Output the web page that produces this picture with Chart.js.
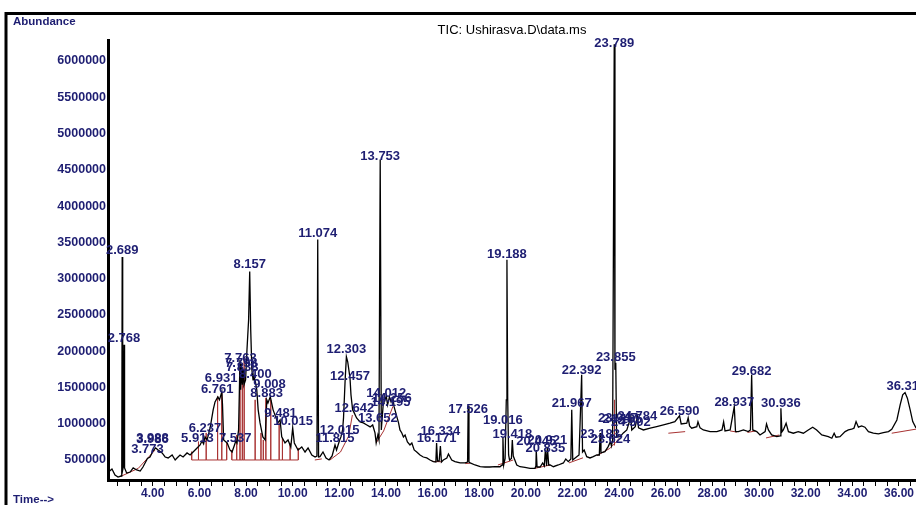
<!DOCTYPE html>
<html>
<head>
<meta charset="utf-8">
<title>TIC: Ushirasva.D\data.ms</title>
<script src="https://cdn.jsdelivr.net/npm/chart.js@4.4.0/dist/chart.umd.min.js"></script>
<style>
  html, body { margin: 0; padding: 0; background: #fff; overflow: hidden; }
  #wrap { position: relative; width: 916px; height: 505px; }
</style>
</head>
<body>
<div id="wrap"><canvas id="chart"></canvas></div>
<script>
// retention time (min) and abundance
const traceTime = [
  2.10, 2.25, 2.38, 2.51, 2.64, 2.67, 2.689, 2.71, 2.745, 2.768, 2.79, 2.88, 3.03, 3.16, 3.31, 3.46, 3.58, 3.773, 3.88, 4.01,
  4.12, 4.23, 4.40, 4.53, 4.66, 4.83, 4.96, 5.04, 5.17, 5.30, 5.47, 5.60, 5.73, 5.90, 6.03, 6.11, 6.18, 6.24, 6.33, 6.46,
  6.59, 6.67, 6.79, 6.86, 6.96, 6.99, 7.04, 7.19, 7.31, 7.40, 7.49, 7.56, 7.61, 7.68, 7.74, 7.77, 7.80, 7.84, 7.87, 7.91,
  7.98, 8.04, 8.11, 8.157, 8.20, 8.25, 8.30, 8.34, 8.40, 8.46, 8.52, 8.60, 8.72, 8.82, 8.89, 8.94, 9.04, 9.16, 9.27, 9.36,
  9.46, 9.53, 9.67, 9.80, 9.92, 10.00, 10.07, 10.23, 10.39, 10.53, 10.66, 10.82, 10.96, 11.04, 11.074, 11.11, 11.17, 11.30, 11.43, 11.56,
  11.69, 11.815, 11.88, 12.015, 12.07, 12.14, 12.18, 12.25, 12.303, 12.36, 12.457, 12.50, 12.57, 12.64, 12.74, 12.89, 13.03, 13.18, 13.32, 13.43,
  13.53, 13.58, 13.652, 13.70, 13.753, 13.80, 13.88, 13.96, 14.012, 14.07, 14.15, 14.22, 14.30, 14.35, 14.41, 14.48, 14.54, 14.60, 14.68, 14.75,
  14.82, 14.92, 15.03, 15.11, 15.21, 15.32, 15.46, 15.60, 15.75, 15.89, 16.03, 16.14, 16.171, 16.21, 16.28, 16.334, 16.38, 16.46, 16.61, 16.68,
  16.75, 16.82, 16.96, 17.18, 17.39, 17.50, 17.526, 17.56, 17.61, 17.82, 18.04, 18.25, 18.46, 18.68, 18.89, 18.98, 19.016, 19.05, 19.11, 19.16,
  19.188, 19.22, 19.26, 19.30, 19.38, 19.418, 19.46, 19.61, 19.75, 19.96, 20.18, 20.39, 20.43, 20.445, 20.48, 20.61, 20.72, 20.79, 20.835, 20.89,
  20.921, 20.98, 21.04, 21.18, 21.39, 21.61, 21.71, 21.82, 21.93, 21.967, 22.01, 22.18, 22.28, 22.392, 22.43, 22.50, 22.61, 22.75, 22.89, 23.04,
  23.15, 23.183, 23.22, 23.39, 23.53, 23.624, 23.67, 23.72, 23.789, 23.82, 23.855, 23.89, 24.04, 24.18, 24.33, 24.502, 24.54, 24.69, 24.784, 24.83,
  25.04, 25.33, 25.61, 25.90, 26.18, 26.39, 26.590, 26.66, 26.90, 26.96, 27.02, 27.11, 27.33, 27.38, 27.47, 27.61, 27.90, 28.19, 28.41, 28.48,
  28.54, 28.76, 28.937, 28.99, 29.11, 29.33, 29.54, 29.63, 29.682, 29.73, 29.90, 30.04, 30.26, 30.32, 30.40, 30.54, 30.76, 30.91, 30.936, 30.98,
  31.04, 31.16, 31.26, 31.47, 31.68, 31.90, 32.11, 32.30, 32.47, 32.69, 32.97, 33.12, 33.22, 33.30, 33.47, 33.69, 33.83, 33.97, 34.07, 34.16,
  34.26, 34.40, 34.54, 34.69, 34.90, 35.12, 35.33, 35.55, 35.69, 35.91, 36.05, 36.16, 36.26, 36.36, 36.48, 36.59, 36.73, 36.90
];
const traceAbund = [
  334000, 376000, 293000, 265000, 279000, 362000, 3300000, 362000, 417000, 2090000, 390000, 320000, 334000, 390000, 362000, 348000, 403000, 520000, 541000, 624000,
  666000, 638000, 597000, 541000, 528000, 569000, 500000, 528000, 569000, 541000, 597000, 569000, 610000, 666000, 707000, 762000, 721000, 818000, 776000, 942000,
  1190000, 1301000, 1370000, 1329000, 1439000, 1260000, 776000, 735000, 638000, 610000, 693000, 762000, 735000, 914000, 1880000, 1467000, 1826000, 1536000, 1743000, 1536000,
  1605000, 2019000, 2434000, 3097000, 2296000, 1743000, 1605000, 1660000, 1577000, 1467000, 1191000, 1011000, 818000, 776000, 1329000, 1287000, 1370000, 1191000, 1094000, 1011000,
  1052000, 818000, 735000, 776000, 680000, 942000, 735000, 638000, 680000, 610000, 666000, 569000, 541000, 555000, 3540000, 541000, 546000, 610000, 528000, 500000,
  555000, 707000, 638000, 776000, 818000, 914000, 1080000, 1605000, 1923000, 1854000, 1633000, 1398000, 1191000, 1149000, 1080000, 1025000, 1011000, 983000, 956000, 983000,
  873000, 735000, 845000, 776000, 4644000, 914000, 1260000, 1329000, 1384000, 1260000, 1370000, 1301000, 1356000, 1232000, 1163000, 1080000, 1011000, 914000, 873000, 818000,
  845000, 749000, 707000, 735000, 638000, 610000, 569000, 541000, 528000, 500000, 477000, 472000, 735000, 486000, 486000, 693000, 472000, 500000, 528000, 583000,
  541000, 500000, 477000, 459000, 459000, 472000, 1246000, 472000, 459000, 431000, 407000, 403000, 403000, 407000, 407000, 431000, 818000, 431000, 520000, 1329000,
  3262000, 1356000, 569000, 500000, 520000, 776000, 555000, 431000, 407000, 399000, 385000, 385000, 417000, 638000, 403000, 403000, 459000, 417000, 638000, 417000,
  680000, 431000, 431000, 407000, 431000, 459000, 514000, 477000, 514000, 1191000, 500000, 546000, 569000, 1674000, 610000, 638000, 546000, 528000, 546000, 569000,
  569000, 873000, 597000, 615000, 684000, 753000, 693000, 776000, 6232000, 1743000, 1840000, 818000, 822000, 873000, 914000, 1094000, 914000, 960000, 1094000, 942000,
  914000, 938000, 960000, 983000, 1007000, 1029000, 1110000, 997000, 1007000, 1080000, 969000, 938000, 960000, 1025000, 942000, 914000, 891000, 891000, 914000, 1025000,
  900000, 914000, 1236000, 891000, 891000, 914000, 891000, 914000, 1674000, 914000, 891000, 845000, 891000, 997000, 914000, 845000, 822000, 831000, 1214000, 887000,
  914000, 1007000, 891000, 869000, 891000, 869000, 914000, 952000, 914000, 845000, 822000, 800000, 869000, 814000, 822000, 891000, 914000, 924000, 938000, 1029000,
  952000, 970000, 952000, 891000, 869000, 859000, 877000, 891000, 924000, 1052000, 1260000, 1398000, 1430000, 1352000, 1191000, 1029000, 942000, 900000
];

// axis tick values
const yTicks = [500000, 1000000, 1500000, 2000000, 2500000, 3000000, 3500000, 4000000, 4500000, 5000000, 5500000, 6000000];
const xLabelTicks = [4, 6, 8, 10, 12, 14, 16, 18, 20, 22, 24, 26, 28, 30, 32, 34, 36];

// integrated peak labels and the abundance level where each label sits
const peakNames = ['2.689', '2.768', '3.773', '3.988', '3.986', '5.913', '6.237', '6.761', '6.931', '7.537',
  '7.763', '7.798', '7.838', '8.157', '8.400', '8.883', '9.008', '9.481', '10.015', '11.074',
  '11.815', '12.015', '12.303', '12.457', '12.642', '13.652', '13.753', '14.012', '14.195', '14.256',
  '16.171', '16.334', '17.526', '19.016', '19.188', '19.418', '20.445', '20.835', '20.921', '21.967',
  '22.392', '23.183', '23.624', '23.789', '23.855', '23.947', '24.135', '24.502', '24.784', '26.590',
  '28.937', '29.682', '30.936', '36.313'];
const labelLevels = [3336000, 2120000, 601000, 753000, 739000, 753000, 891000, 1430000, 1581000, 753000,
  1844000, 1775000, 1720000, 3142000, 1637000, 1374000, 1499000, 1098000, 988000, 3570000,
  753000, 863000, 1968000, 1609000, 1167000, 1029000, 4634000, 1374000, 1250000, 1305000,
  753000, 849000, 1153000, 1001000, 3280000, 808000, 711000, 615000, 725000, 1236000,
  1692000, 808000, 739000, 6195000, 1858000, 1029000, 1015000, 974000, 1057000, 1126000,
  1250000, 1678000, 1236000, 1471000];

// drop lines of the integration (from the flat baseline up to the trace)
const dropBase = 500000;
const dropTimesA = [5.67, 5.96, 6.29, 6.78, 6.96, 7.17];
const dropTopsA = [615000, 753000, 873000, 1374000, 1425000, 735000];
const dropTimesB = [7.39, 7.60, 7.74, 7.84, 7.92, 8.39, 8.64, 8.74, 8.85, 9.06, 9.42, 9.56, 9.89, 10.24];
const dropTopsB = [638000, 845000, 1743000, 1650000, 1923000, 1329000, 873000, 776000, 1356000, 1329000, 1011000, 804000, 735000, 666000];

// sloped integration baselines
const baseLineT = [
  [2.60, 3.38, 4.10], [10.95, 11.25], [11.60, 12.05, 12.40, 12.56], [13.58, 13.90, 14.30],
  [16.00, 16.40], [17.40, 17.60], [18.80, 19.46], [20.39, 21.04], [21.85, 22.45],
  [23.05, 23.60, 23.85, 24.00], [23.80, 23.80], [26.11, 26.83], [28.76, 29.05], [29.50, 29.85],
  [30.30, 30.87], [35.69, 37.00]
];
const baseLineA = [
  [270000, 385000, 638000], [500000, 515000], [500000, 610000, 830000, 1120000], [735000, 900000, 1240000],
  [480000, 475000], [450000, 455000], [431000, 500000], [385000, 431000], [460000, 530000],
  [560000, 660000, 740000, 800000], [700000, 1330000], [869000, 891000], [900000, 885000], [880000, 900000],
  [804000, 845000], [869000, 940000]
];

const navy = '#1e1e72';
const red = '#a83232';

const trace = traceTime.map((t, i) => ({ x: t, y: traceAbund[i] }));

function dropPath(times, tops) {
  const pts = [];
  times.forEach((t, i) => {
    pts.push({ x: t, y: dropBase }, { x: t, y: tops[i] }, { x: t, y: dropBase });
  });
  return pts;
}

const redSets = [dropPath(dropTimesA, dropTopsA), dropPath(dropTimesB, dropTopsB)];
baseLineT.forEach((ts, k) => {
  redSets.push(ts.map((t, i) => ({ x: t, y: baseLineA[k][i] })));
});

const datasets = [{
  data: trace,
  borderColor: '#000',
  borderWidth: 1.3,
  pointRadius: 0,
  tension: 0
}];
redSets.forEach(pts => {
  datasets.push({ data: pts, borderColor: red, borderWidth: 1, pointRadius: 0, tension: 0 });
});

const framePlugin = {
  id: 'frame',
  beforeDraw(chart) {
    const ctx = chart.ctx;
    ctx.save();
    ctx.fillStyle = '#fff';
    ctx.fillRect(0, 0, chart.width, chart.height);
    ctx.strokeStyle = '#000';
    ctx.lineWidth = 3;
    ctx.strokeRect(6, 13.5, 1000, 1000);
    ctx.fillStyle = navy;
    ctx.font = 'bold 11.5px Arial, "Liberation Sans", sans-serif';
    ctx.textBaseline = 'middle';
    ctx.textAlign = 'left';
    ctx.fillText('Abundance', 13, 22);
    ctx.fillText('Time-->', 13, 500);
    ctx.fillStyle = '#000';
    ctx.font = '13px Arial, "Liberation Sans", sans-serif';
    ctx.textAlign = 'center';
    const area = chart.chartArea;
    ctx.fillText('TIC: Ushirasva.D\\data.ms', (area.left + area.right) / 2, 30);
    ctx.restore();
  }
};

const peakLabelPlugin = {
  id: 'peakLabels',
  afterDatasetsDraw(chart) {
    const { ctx, scales } = chart;
    ctx.save();
    ctx.font = 'bold 13px Arial, "Liberation Sans", sans-serif';
    ctx.fillStyle = navy;
    ctx.textAlign = 'center';
    ctx.textBaseline = 'alphabetic';
    peakNames.forEach((name, i) => {
      const px = scales.x.getPixelForValue(Number(name));
      const py = scales.y.getPixelForValue(labelLevels[i]);
      ctx.fillText(name, px, py);
    });
    ctx.restore();
  }
};

new Chart(document.getElementById('chart'), {
  type: 'line',
  data: { datasets: datasets },
  options: {
    responsive: true,
    maintainAspectRatio: false,
    animation: false,
    events: [],
    layout: { padding: { top: 40, right: 0, bottom: 0, left: 0 } },
    plugins: { legend: { display: false }, tooltip: { enabled: false }, title: { display: false } },
    scales: {
      x: {
        type: 'linear',
        min: 2.08,
        max: 36.73,
        grid: { display: true, drawOnChartArea: false, drawTicks: true, tickLength: 6, color: '#000', lineWidth: 1 },
        border: { display: true, color: '#000', width: 3 },
        afterBuildTicks: s => {
          const ticks = [];
          for (let v = 2.5; v <= 36.5; v += 0.5) ticks.push({ value: v });
          s.ticks = ticks;
        },
        ticks: {
          autoSkip: false,
          maxRotation: 0,
          padding: 0,
          color: navy,
          font: { family: 'Arial, "Liberation Sans", sans-serif', size: 12, weight: 'bold' },
          callback: v => xLabelTicks.includes(v) ? v.toFixed(2) : ''
        },
        afterFit: s => { s.height = 25; }
      },
      y: {
        type: 'linear',
        min: 224000,
        max: 6290000,
        grid: { display: false, drawTicks: false },
        border: { display: true, color: '#000', width: 3 },
        afterBuildTicks: s => { s.ticks = yTicks.map(v => ({ value: v })); },
        ticks: {
          padding: 2,
          color: navy,
          font: { family: 'Arial, "Liberation Sans", sans-serif', size: 12.5, weight: 'bold' },
          callback: v => String(v)
        },
        afterFit: s => { s.width = 108; }
      }
    }
  },
  plugins: [framePlugin, peakLabelPlugin]
});
</script>
</body>
</html>
